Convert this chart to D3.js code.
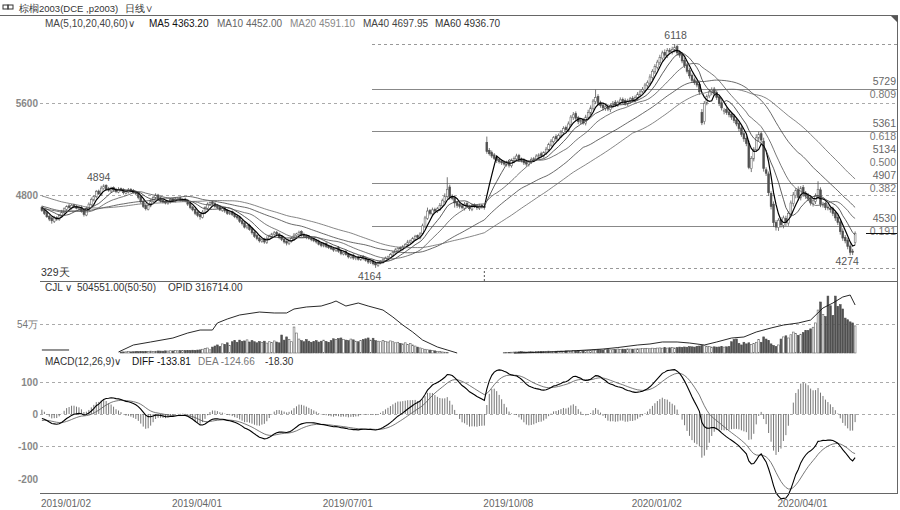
<!DOCTYPE html>
<html><head><meta charset="utf-8">
<script src="https://cdn.jsdelivr.net/npm/d3@7"></script>
<style>body{margin:0;background:#fff;overflow:hidden} text{font-family:"Liberation Sans",Arial,sans-serif}</style>
</head><body><svg id="c" width="900" height="510"></svg>
<script>
// ---------- data ----------
const priorCloses = [4980,5000,5020,5010,4990,4970,4980,5000,4990,4960,
4950,4970,4960,4940,4930,4950,4970,4980,4960,4940,
4910,4880,4850,4830,4840,4820,4790,4770,4760,4740,
4720,4700,4710,4690,4670,4650,4660,4640,4620,4610,
4630,4650,4640,4660,4680,4670,4690,4700,4680,4660,
4650,4670,4690,4700,4680,4690,4710,4700,4690,4680];
const opens = [4690,4670,4645,4615,4600,4570,4605,4585,4615,4645,
4675,4705,4685,4715,4700,4680,4690,4665,4625,4675,
4715,4755,4785,4835,4805,4855,4885,4855,4835,4865,
4850,4825,4855,4845,4815,4825,4850,4840,4825,4815,
4785,4745,4710,4675,4705,4745,4775,4800,4775,4755,
4745,4725,4740,4765,4745,4760,4775,4750,4765,4755,
4725,4695,4675,4650,4630,4605,4645,4685,4715,4740,
4725,4705,4695,4665,4685,4665,4635,4655,4635,4615,
4605,4575,4555,4515,4535,4505,4475,4445,4425,4395,
4415,4385,4415,4435,4455,4475,4460,4435,4415,4395,
4375,4395,4415,4445,4455,4480,4455,4445,4435,4425,
4415,4405,4395,4375,4355,4375,4355,4345,4335,4315,
4340,4315,4285,4305,4285,4255,4275,4245,4260,4235,
4265,4250,4235,4210,4225,4205,4185,4205,4215,4230,
4245,4255,4275,4295,4315,4340,4325,4345,4365,4385,
4395,4415,4445,4425,4465,4525,4595,4665,4635,4675,
4655,4675,4705,4745,4785,4870,4790,4775,4735,4720,
4705,4685,4725,4705,4675,4715,4705,4685,4710,4700,
5260,5190,5170,5150,5130,5110,5095,5085,5065,5090,
5055,5095,5115,5145,5115,5105,5085,5065,5085,5105,
5115,5135,5160,5140,5165,5195,5235,5265,5310,5285,
5315,5345,5390,5365,5415,5475,5510,5475,5435,5455,
5425,5475,5515,5555,5615,5660,5605,5585,5555,5575,
5545,5575,5610,5585,5605,5635,5625,5595,5615,5645,
5625,5645,5675,5705,5715,5755,5775,5825,5875,5915,
5955,5995,6045,6015,6065,6045,6065,6095,6045,6025,
5975,5935,5885,5845,5805,5785,5765,5520,5440,5605,
5665,5695,5725,5695,5655,5605,5530,5545,5525,5505,
5485,5455,5425,5385,5335,5295,5250,5030,5115,5195,
5295,5335,5270,5020,4985,4815,4720,4560,4515,4585,
4535,4595,4555,4635,4725,4795,4845,4775,4865,4815,
4795,4775,4725,4745,4785,4845,4715,4725,4695,4685,
4680,4645,4605,4565,4485,4430,4405,4355,4310,4385];
const closes = [4665,4640,4610,4590,4575,4600,4590,4620,4650,4680,
4700,4690,4710,4700,4685,4690,4660,4630,4680,4720,
4760,4790,4830,4810,4860,4880,4850,4840,4860,4845,
4830,4850,4840,4820,4830,4845,4835,4820,4810,4780,
4740,4700,4680,4710,4750,4780,4795,4770,4750,4740,
4730,4745,4760,4750,4765,4770,4755,4760,4750,4720,
4690,4670,4640,4620,4610,4650,4690,4720,4735,4725,
4700,4690,4670,4680,4660,4640,4650,4630,4610,4600,
4570,4550,4520,4530,4500,4470,4440,4420,4400,4410,
4390,4420,4440,4460,4470,4455,4430,4410,4390,4380,
4400,4420,4450,4460,4475,4450,4440,4430,4420,4410,
4400,4390,4370,4360,4370,4350,4340,4330,4320,4335,
4310,4290,4300,4280,4260,4270,4250,4255,4240,4260,
4245,4230,4215,4220,4200,4190,4210,4220,4235,4250,
4260,4280,4300,4320,4335,4330,4350,4370,4390,4400,
4420,4440,4430,4460,4530,4600,4660,4640,4670,4660,
4680,4710,4750,4790,4850,4780,4770,4730,4710,4700,
4690,4720,4700,4680,4710,4700,4690,4705,4695,4690,
5180,5160,5140,5120,5100,5090,5080,5070,5085,5060,
5100,5120,5140,5110,5100,5080,5070,5090,5110,5120,
5140,5150,5145,5170,5200,5240,5270,5300,5290,5320,
5350,5380,5370,5420,5480,5500,5470,5440,5450,5430,
5480,5520,5560,5620,5650,5600,5580,5560,5570,5550,
5580,5600,5590,5610,5630,5620,5600,5620,5640,5630,
5650,5680,5700,5720,5760,5780,5830,5880,5920,5960,
6000,6040,6020,6060,6050,6070,6090,6040,6020,5970,
5930,5880,5840,5800,5780,5760,5700,5430,5600,5660,
5700,5720,5690,5650,5600,5560,5540,5520,5500,5480,
5450,5420,5380,5330,5290,5250,5040,5120,5200,5300,
5330,5280,5030,4990,4820,4700,4560,4520,4580,4540,
4600,4560,4640,4730,4800,4840,4780,4860,4810,4790,
4770,4730,4750,4790,4850,4720,4720,4690,4690,4672,
4640,4600,4560,4480,4424,4400,4350,4300,4300,4466];
const upperWick = [15,10,20,12,8,18,10,14,20,12,
10,16,12,8,14,10,18,12,20,15,
18,10,14,12,20,14,8,16,12,10,
12,18,10,14,12,16,10,12,14,10,
12,15,10,18,12,14,20,10,12,15,
10,12,14,10,16,12,10,14,12,10,
12,10,14,12,10,18,12,15,10,12,
14,10,12,16,10,12,15,10,12,14,
10,12,15,10,14,12,10,16,12,18,
12,20,14,10,16,12,10,14,12,10,
15,12,18,10,14,12,16,10,12,14,
10,12,15,10,14,12,10,16,12,10,
14,10,12,16,10,12,14,10,12,15,
10,12,14,10,12,15,12,10,14,12,
10,14,12,16,10,12,14,10,18,12,
14,12,10,16,20,18,30,12,20,14,
16,20,18,24,105,20,16,14,12,15,
12,18,14,10,16,12,14,18,12,10,
50,20,18,16,14,18,12,16,14,10,
18,16,20,14,12,16,10,14,18,12,
16,14,18,12,20,16,18,14,20,16,
18,20,16,22,18,24,20,16,14,18,
20,24,22,18,70,20,18,16,14,18,
16,20,18,14,22,16,18,20,16,18,
20,18,16,22,18,20,24,18,22,20,
24,20,26,22,18,24,28,20,18,22,
20,18,22,16,20,18,24,30,20,18,
22,20,18,16,20,22,18,20,16,18,
20,18,22,16,20,18,24,20,18,30,
24,20,30,22,20,18,24,20,18,22,
20,24,18,22,26,20,30,18,22,20,
22,18,20,24,70,22,20,18,24,20,
18,20,22,18,24,20,18,22,20,16];
const lowerWick = [12,15,10,18,25,14,16,10,12,10,
14,10,12,16,10,12,14,18,10,12,
10,12,14,10,12,10,14,12,16,12,
14,10,12,16,10,12,14,10,12,18,
16,14,15,10,12,14,10,12,16,14,
12,10,14,12,10,14,12,10,14,16,
14,12,16,14,25,10,12,14,10,12,
12,14,10,12,16,14,10,14,12,16,
14,16,12,14,12,16,14,15,15,12,
16,12,10,14,12,14,16,12,14,20,
12,10,14,12,10,14,12,16,10,14,
12,14,10,16,12,14,12,10,16,12,
14,16,12,10,14,12,16,14,12,10,
14,12,16,12,14,26,12,10,14,12,
10,12,14,10,12,14,10,12,14,10,
12,10,14,12,16,14,12,18,14,16,
12,14,16,14,18,20,16,40,22,18,
16,20,14,18,16,14,20,16,14,18,
20,16,18,14,20,16,18,14,16,20,
16,18,14,20,16,18,22,16,14,18,
14,16,18,14,16,18,14,16,20,14,
16,18,20,16,18,20,16,22,18,16,
18,16,20,18,22,20,18,24,20,18,
22,18,20,16,18,22,20,18,16,20,
18,20,22,18,20,18,22,20,18,20,
20,22,24,20,22,18,20,24,22,20,
22,20,24,22,18,20,26,20,24,22,
20,24,22,20,24,22,26,20,22,24,
22,20,24,22,26,24,15,30,22,20,
24,22,26,24,28,26,40,30,28,24,
26,30,24,22,26,24,28,22,26,24,
24,22,26,24,22,26,24,22,24,26,
24,26,22,26,24,22,24,26,24,20];
const volumeK = [0,0,0,0,0,0,0,0,0,0,
0,0,0,0,0,0,0,0,0,0,
0,0,0,0,0,0,0,0,0,0,
0,0,18,20,22,25,21,24,28,26,
30,27,32,29,35,31,33,38,36,34,
40,37,42,39,45,41,44,48,46,50,
47,52,49,55,58,70,85,93,60,110,
130,150,120,170,160,190,140,210,230,200,
240,215,225,245,205,230,210,190,215,200,
220,185,210,195,225,205,190,335,240,300,
250,210,484,372,260,230,210,250,220,200,
215,230,205,220,240,215,200,230,265,250,
270,280,255,240,230,260,245,220,210,235,
250,265,280,240,275,230,220,210,235,215,
205,225,210,190,200,180,170,190,160,175,
150,130,110,95,80,70,60,55,45,40,
30,25,20,15,10,0,0,0,0,0,
0,0,0,0,0,0,0,0,0,0,
0,0,0,0,0,0,0,5,8,12,
15,18,20,22,25,20,18,24,28,22,
26,30,28,25,32,35,30,28,33,36,
38,35,40,42,38,45,40,44,48,42,
46,50,48,55,52,60,58,55,62,65,
60,70,65,75,68,72,70,78,74,72,
75,80,78,85,82,88,80,90,85,92,
95,90,100,92,98,105,95,100,110,105,
112,108,120,115,110,125,130,140,135,128,
120,110,115,110,112,118,110,115,120,210,
250,260,180,150,200,170,190,160,180,200,
250,200,300,260,230,170,140,120,150,260,
300,320,280,340,390,360,330,350,380,420,
420,450,480,560,800,950,720,680,1060,880,
700,1060,870,900,820,650,620,580,560,505];
const oiIdx = [0,11,12,31,37,44,53,59,64,69,71,75,80,88,94,99,102,107,113,117,119,123,128,132,138,142,146,150,154,160,164,168,169,191,206,214,227,233,241,246,251,257,262,268,273,279,284,289,295,300,306,311,316,320,324,327,329];
const oiK = [56,56,null,19,149,205,279,372,428,428,559,633,708,763,745,745,819,857,875,931,968,875,931,875,800,670,521,391,242,112,56,0,null,0,19,37,74,102,149,168,205,205,186,149,205,279,298,391,466,521,559,614,838,931,1043,1080,894];
const maPeriods = [5,10,20,40,60];
const maValuesText = ["4363.20","4452.00","4591.10","4697.95","4936.70"];
const fibLevels = [5729,5361,5134,4907,4530];
const fibRatios = ["0.809","0.618","0.500","0.382","0.191"];
const fibHasLine = [true,true,false,true,true];
const swingHigh = 6118, swingLow = 4164, earlyHigh = 4894, lateLow = 4274;
const tickIdx = [0,53,114,179,239,298];
const tickLabels = ["2019/01/02","2019/04/01","2019/07/01","2019/10/08","2020/01/02","2020/04/01"];
const priceTicks = [5600,4800];
const macdTicks = [100,0,-100,-200];

// ---------- derived ----------
const N = closes.length;
const all = priorCloses.concat(closes);
const P = priorCloses.length;
const highs = closes.map((c,i)=>Math.max(c,opens[i])+upperWick[i]);
const lows = closes.map((c,i)=>Math.min(c,opens[i])-lowerWick[i]);
const mas = maPeriods.map(n=>closes.map((c,i)=>d3.mean(all.slice(P+i-n+1,P+i+1))));
function ema(arr,n){const k=2/(n+1),o=[];arr.forEach((v,i)=>o.push(i?o[i-1]+k*(v-o[i-1]):v));return o;}
const e12=ema(all,12), e26=ema(all,26);
const diffAll=all.map((v,i)=>e12[i]-e26[i]);
const deaAll=ema(diffAll,9);
const diff=diffAll.slice(P), dea=deaAll.slice(P), hist=diff.map((d,i)=>2*(d-dea[i]));

// ---------- scales ----------
const svg=d3.select("#c");
const x=d3.scaleBand().domain(d3.range(N)).range([41,856]).paddingInner(0.28);
const cx=i=>x(i)+x.bandwidth()/2;
const yP=d3.scaleLinear().domain([4100,6200]).range([275.2,34.6]);
const yV=d3.scaleLinear().domain([0,1300]).range([353,283.2]);
const yM=d3.scaleLinear().domain([-250,150]).range([494.8,365.5]);
const L=40,R=897;

// ---------- frame ----------
const g=svg.append("g");
function hline(y,x1,x2,stroke,dash,w){g.append("line").attr("x1",x1).attr("x2",x2).attr("y1",y).attr("y2",y).attr("stroke",stroke).attr("stroke-width",w||1).attr("stroke-dasharray",dash||null);}
hline(15.5,0,898,"#666");
g.append("line").attr("x1",R+0.5).attr("x2",R+0.5).attr("y1",15).attr("y2",494).attr("stroke","#666");
hline(281.5,L,R,"#666");
g.append("path").attr("d","M891,16L898,16L898,23Z").attr("fill","#555");

priceTicks.forEach(p=>{hline(Math.round(yP(p))+0.5,L,R,"#aaa","3,3");
 g.append("text").attr("x",38).attr("y",yP(p)+4).attr("text-anchor","end").attr("font-size",10).attr("font-weight","bold").attr("fill","#888").text(p);});
hline(Math.round(yV(540))+0.5,L,R,"#aaa","3,3");
g.append("text").attr("x",38).attr("y",yV(540)+4).attr("text-anchor","end").attr("font-size",10).attr("fill","#777").attr("font-family","Noto Sans CJK SC").text("54万");
macdTicks.forEach(v=>{ if(v>-200) hline(Math.round(yM(v))+0.5,L,R,"#aaa","3,3");
 g.append("text").attr("x",38).attr("y",yM(v)+4).attr("text-anchor","end").attr("font-size",10).attr("font-weight","bold").attr("fill","#888").text(v);});

fibLevels.forEach((lv,k)=>{const y=yP(lv);
 if(fibHasLine[k]) hline(Math.round(y)+0.5,372,R,"#888");
 g.append("text").attr("x",896).attr("y",y-4).attr("text-anchor","end").attr("font-size",10.5).attr("fill","#666").text(lv);
 g.append("text").attr("x",896).attr("y",y+9.5).attr("text-anchor","end").attr("font-size",10.5).attr("fill","#777").text(fibRatios[k]);});
hline(Math.round(yP(swingHigh))+0.5,372,R,"#999","3,3");
hline(Math.round(yP(swingLow))+0.5,388,R,"#999","3,3");
hline(Math.round(yP(closes[N-1]))+0.5,866,R,"#111");

// ---------- candles ----------
const cg=svg.append("g");
cg.selectAll(".w").data(closes).join("line").attr("x1",(d,i)=>cx(i)).attr("x2",(d,i)=>cx(i))
 .attr("y1",(d,i)=>yP(highs[i])).attr("y2",(d,i)=>yP(lows[i])).attr("stroke","#555").attr("stroke-width",0.8);
cg.selectAll(".b").data(closes).join("rect").attr("x",(d,i)=>x(i)).attr("width",x.bandwidth())
 .attr("y",(d,i)=>yP(Math.max(d,opens[i]))).attr("height",(d,i)=>Math.max(1,Math.abs(yP(d)-yP(opens[i]))))
 .attr("fill",(d,i)=>d<opens[i]?"#505050":"#fff").attr("stroke",(d,i)=>d<opens[i]?"#505050":"#666").attr("stroke-width",0.6);

const maStyle=[["#000",1.2],["#333",0.8],["#555",0.8],["#444",0.8],["#666",0.8]];
mas.forEach((m,k)=>{svg.append("path").datum(m).attr("fill","none").attr("stroke",maStyle[k][0]).attr("stroke-width",maStyle[k][1])
 .attr("d",d3.line().x((d,i)=>cx(i)).y(d=>yP(d)));});

const iH=d3.maxIndex(highs), iL=d3.minIndex(lows.slice(0,200));
const iE=d3.maxIndex(highs.slice(0,60));
const iL2=200+d3.minIndex(lows.slice(200));
function lab(t,xx,yy){svg.append("text").attr("x",xx).attr("y",yy).attr("text-anchor","middle").attr("font-size",10.5).attr("fill","#555").text(t);}
lab(swingHigh,cx(iH)+1,yP(highs[iH])-5);
lab(swingLow,cx(iL)-6,yP(lows[iL])+12);
lab(earlyHigh,cx(iE)-5,yP(highs[iE])-3);
lab(lateLow,cx(iL2)-3,yP(lows[iL2])+10);
svg.append("text").attr("x",41).attr("y",276).attr("font-size",10.5).attr("fill","#333").attr("font-family","Noto Sans CJK SC").text("329天");
svg.append("line").attr("x1",cx(tickIdx[3])).attr("x2",cx(tickIdx[3])).attr("y1",271).attr("y2",281).attr("stroke","#555").attr("stroke-dasharray","2,2");

// ---------- volume / OI ----------
const vg=svg.append("g");
vg.selectAll("rect").data(volumeK.map((v,i)=>({v,i})).filter(d=>d.v>0)).join("rect").attr("x",d=>x(d.i)).attr("width",x.bandwidth())
 .attr("y",d=>yV(d.v)).attr("height",d=>Math.max(0,yV(0)-yV(d.v)))
 .attr("fill",d=>closes[d.i]<opens[d.i]?"#505050":"#fff").attr("stroke",d=>closes[d.i]<opens[d.i]?"#505050":"#666").attr("stroke-width",0.6);
const oiPts=oiIdx.map((d,k)=>[d,oiK[k]]);
svg.append("path").datum(oiPts).attr("fill","none").attr("stroke","#111").attr("stroke-width",0.9)
 .attr("d",d3.line().defined(d=>d[1]!==null).x(d=>cx(d[0])).y(d=>yV(d[1])));

// ---------- MACD ----------
const mg=svg.append("g");
mg.selectAll("line").data(hist).join("line").attr("x1",(d,i)=>cx(i)).attr("x2",(d,i)=>cx(i))
 .attr("y1",yM(0)).attr("y2",d=>yM(d)).attr("stroke","#666").attr("stroke-width",0.9);
svg.append("path").datum(dea).attr("fill","none").attr("stroke","#555").attr("stroke-width",0.8).attr("d",d3.line().x((d,i)=>cx(i)).y(d=>yM(d)));
svg.append("path").datum(diff).attr("fill","none").attr("stroke","#000").attr("stroke-width",1.1).attr("d",d3.line().x((d,i)=>cx(i)).y(d=>yM(d)));

// ---------- axis ----------
const ax=svg.append("g").attr("transform","translate(0,493.5)")
 .call(d3.axisBottom(x).tickValues(tickIdx).tickFormat(d=>tickLabels[tickIdx.indexOf(d)]).tickSize(0).tickPadding(6));
ax.select(".domain").attr("d",`M${L},0H${R}`).attr("stroke","#666");
ax.selectAll("text").attr("text-anchor","start").attr("dx",-1).attr("font-size",10).attr("fill","#666").attr("font-family","Liberation Sans");

// ---------- headers ----------
function t(s,xx,yy,fill,fs,ff){return svg.append("text").attr("x",xx).attr("y",yy).attr("font-size",fs||10).attr("fill",fill).attr("font-family",ff||null).text(s);}
svg.append("rect").attr("x",3).attr("y",5).attr("width",5).attr("height",4).attr("fill","none").attr("stroke","#333");
svg.append("rect").attr("x",8).attr("y",5).attr("width",5).attr("height",4).attr("fill","none").attr("stroke","#333");
t("棕榈2003(DCE ,p2003)",19,12,"#333",9.5,"Noto Sans CJK SC");
t("日线∨",125,12,"#333",9.5,"Noto Sans CJK SC");
t("MA(5,10,20,40,60)∨",45,27,"#444");
const maCols=["#111","#666","#888","#444","#333"];
const maX=[149,217,290,363,435];
maPeriods.forEach((n,k)=>t("MA"+n+" "+maValuesText[k],maX[k],27,maCols[k]));
t("CJL ∨",45,291,"#333"); t("504551.00(50:50)",77,291,"#333"); t("OPID 316714.00",168,291,"#333");
t("MACD(12,26,9)∨",45,365,"#333"); t("DIFF -133.81",132,365,"#111"); t("DEA -124.66",198,365,"#777"); t("-18.30",265,365,"#333");
</script></body></html>
